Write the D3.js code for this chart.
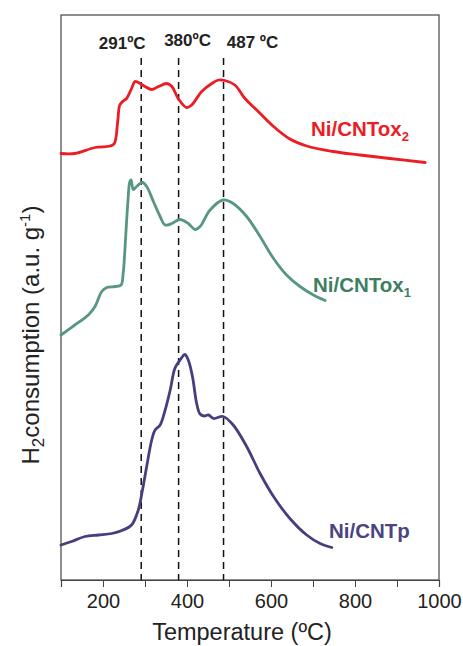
<!DOCTYPE html>
<html>
<head>
  <meta charset="utf-8">
  <script src="https://d3js.org/d3.v7.min.js"></script>
  <style>
    body { margin: 0; background: #fff; }
    text { font-family: "Liberation Sans", Arial, sans-serif; }
  </style>
</head>
<body>
  <div id="chart"></div>
  <script>
    // TPR data (temperature in ºC, H2 consumption in a.u.)
    const ox2Temp = [100, 133, 181, 217, 227, 235, 240, 248, 256, 268, 276, 284, 300, 316, 332, 352, 364, 379, 399, 411, 435, 459, 475, 490, 514, 538, 566, 606, 645, 685, 748, 812, 883, 967];
    const ox2Val  = [85.3, 85.3, 86.5, 86.8, 87.3, 91.7, 95, 95.8, 96.3, 98.3, 99.7, 99.5, 98.7, 98.1, 98.7, 99.3, 98.7, 96.3, 94.5, 95, 97.7, 99.3, 100, 99.9, 99, 96.3, 94, 90.7, 88.2, 86.8, 85.7, 85, 84.3, 83.5];

    const ox1Temp = [100, 133, 165, 181, 197, 209, 229, 243, 248, 254, 259, 264, 267, 272, 280, 294, 304, 320, 336, 348, 364, 383, 403, 419, 431, 455, 486, 510, 542, 574, 606, 637, 669, 701, 729];
    const ox1Val  = [49, 51, 53, 54.7, 57.7, 58.5, 58.7, 59, 61.3, 68.7, 75.3, 79.7, 80, 78.1, 78.7, 79.5, 78.7, 75.7, 72.7, 71, 71.3, 72.1, 71.3, 70.1, 70.7, 74, 76, 75.3, 72.7, 68.7, 64.3, 61, 58.7, 57, 55.9];

    const pTemp = [100, 125, 157, 189, 221, 245, 268, 284, 294, 304, 316, 324, 336, 348, 360, 371, 381, 386, 395, 403, 413, 423, 431, 441, 451, 463, 486, 510, 542, 574, 606, 645, 685, 717, 745];
    const pVal  = [7, 7.7, 8.7, 9, 9.3, 9.9, 11, 14, 18, 22.7, 28, 30, 31, 34, 38, 42.3, 43.7, 44.3, 45.1, 44, 40.7, 35.3, 33.2, 32.8, 33, 32.3, 32.7, 31, 26.7, 21.3, 16.7, 12.3, 9, 7.3, 6.5];

    const peakTemps = [291, 380, 487];
    const peakLabels = ['291ºC', '380ºC', '487 ºC'];
    const xTicks = [100, 200, 300, 400, 500, 600, 700, 800, 900, 1000];

    const width = 463, height = 646;
    const margin = { top: 15, right: 24, bottom: 66, left: 61 };

    const svg = d3.select('#chart').append('svg')
      .attr('width', width)
      .attr('height', height);

    const x = d3.scaleLinear()
      .domain([100, 1000])
      .range([margin.left, width - margin.right]);

    const y = d3.scaleLinear()
      .domain([0, 113])
      .range([height - margin.bottom, margin.top]);

    // frame
    svg.append('rect')
      .attr('x', x(100)).attr('y', y(113))
      .attr('width', x(1000) - x(100))
      .attr('height', y(0) - y(113))
      .attr('fill', 'none')
      .attr('stroke', '#444')
      .attr('stroke-width', 1.2);

    // x axis
    const xAxis = svg.append('g')
      .attr('transform', `translate(0,${y(0)})`)
      .call(d3.axisBottom(x)
        .tickValues(xTicks)
        .tickSize(7)
        .tickPadding(7)
        .tickFormat(d => d % 200 === 0 ? d : ''));
    xAxis.select('.domain').attr('stroke', '#444').attr('stroke-width', 1.2);
    xAxis.selectAll('.tick line').attr('stroke', '#444');
    xAxis.selectAll('.tick text')
      .attr('font-size', 20)
      .attr('fill', '#222')
      .attr('font-family', '"Liberation Sans", Arial, sans-serif');

    // dashed peak lines
    svg.selectAll('.peak')
      .data(peakTemps)
      .enter().append('line')
      .attr('x1', d => x(d)).attr('x2', d => x(d))
      .attr('y1', 58).attr('y2', y(0))
      .attr('stroke', '#111')
      .attr('stroke-width', 1.5)
      .attr('stroke-dasharray', '7,5');

    const labelDx = [-19, 9, 29];
    const labelY = [49, 46, 48];
    svg.selectAll('.peakLabel')
      .data(peakLabels)
      .enter().append('text')
      .attr('x', (d, i) => x(peakTemps[i]) + labelDx[i])
      .attr('y', (d, i) => labelY[i])
      .attr('text-anchor', 'middle')
      .attr('font-size', 17)
      .attr('font-weight', 'bold')
      .attr('fill', '#222')
      .text(d => d);

    // curves
    const line = d3.line()
      .x(d => x(d[0]))
      .y(d => y(d[1]))
      .curve(d3.curveCatmullRom.alpha(0.5));

    const series = [
      { t: ox2Temp, v: ox2Val, color: '#ec1c24' },
      { t: ox1Temp, v: ox1Val, color: '#57977f' },
      { t: pTemp, v: pVal, color: '#463f7e' }
    ];

    series.forEach(s => {
      svg.append('path')
        .datum(s.t.map((t, i) => [t, s.v[i]]))
        .attr('d', line)
        .attr('fill', 'none')
        .attr('stroke', s.color)
        .attr('stroke-width', 2.8)
        .attr('stroke-linejoin', 'round')
        .attr('stroke-linecap', 'round');
    });

    // series labels
    function seriesLabel(px, py, main, sub, color) {
      const t = svg.append('text')
        .attr('x', px).attr('y', py)
        .attr('font-size', 20.5)
        .attr('font-weight', 'bold')
        .attr('fill', color);
      t.append('tspan').text(main);
      if (sub) {
        t.append('tspan').attr('dy', 5).attr('font-size', 13).text(sub);
      }
    }
    seriesLabel(311, 136, 'Ni/CNTox', '2', '#ec1c24');
    seriesLabel(313, 292, 'Ni/CNTox', '1', '#3e7f61');
    seriesLabel(329, 538, 'Ni/CNTp', null, '#4a4580');

    // axis titles
    svg.append('text')
      .attr('x', 242).attr('y', 640)
      .attr('text-anchor', 'middle')
      .attr('font-size', 23.5)
      .attr('fill', '#222')
      .text('Temperature (ºC)');

    const yt = svg.append('text')
      .attr('transform', 'translate(39,335) rotate(-90)')
      .attr('text-anchor', 'middle')
      .attr('font-size', 24)
      .attr('fill', '#222');
    yt.append('tspan').text('H');
    yt.append('tspan').attr('dy', 5).attr('font-size', 17).text('2');
    yt.append('tspan').attr('dy', -5).text('consumption (a.u. g');
    yt.append('tspan').attr('dy', -9).attr('font-size', 15).text('-1');
    yt.append('tspan').attr('dy', 9).text(')');
  </script>
</body>
</html>
